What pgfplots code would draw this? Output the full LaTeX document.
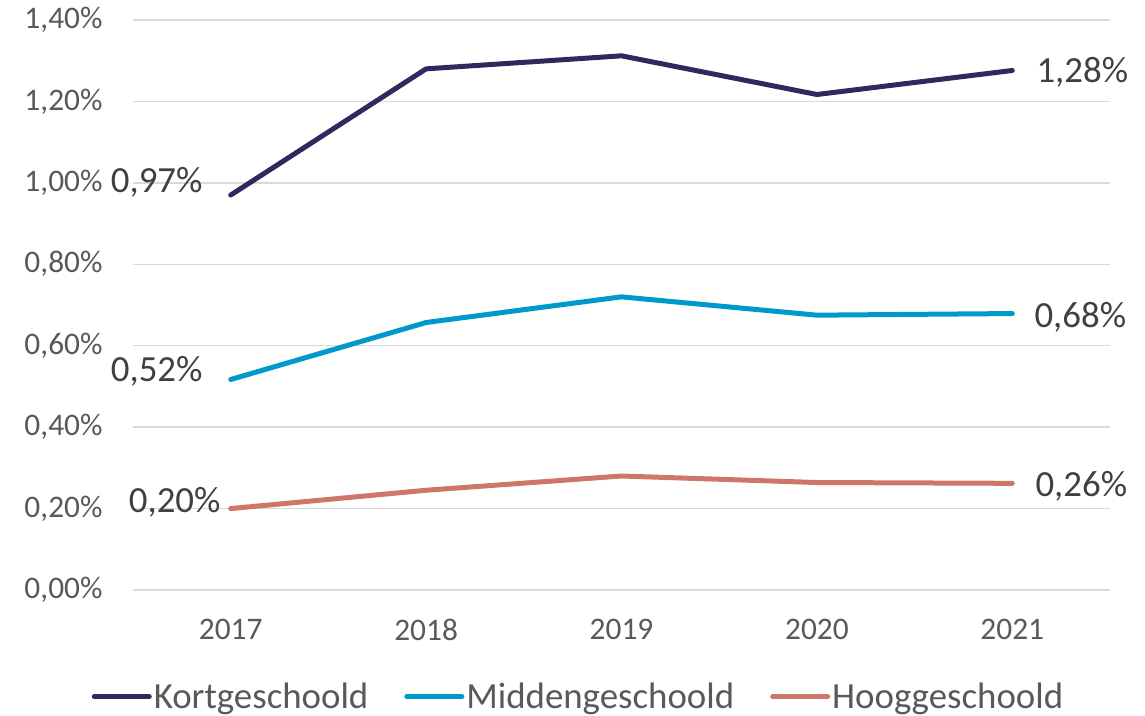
\documentclass[border=0pt]{standalone}
\usepackage{fontspec}
\setmainfont{Carlito}
\usepackage{pgfplots}
\pgfplotsset{compat=1.18}
\definecolor{kort}{HTML}{2C2A5E}
\definecolor{midden}{HTML}{0099CB}
\definecolor{hoog}{HTML}{CF766B}
\definecolor{tickc}{HTML}{595959}
\definecolor{labc}{HTML}{404040}
\definecolor{gridc}{HTML}{D9D9D9}
\begin{document}
\begin{tikzpicture}
\useasboundingbox (-133bp,-126bp) rectangle (1012bp,590bp);
\begin{axis}[
 at={(0,0)}, anchor=south west,
 scale only axis, width=977bp, height=570bp,
 xmin=-0.5, xmax=4.5, ymin=0, ymax=1.4,
 xtick={0,1,2,3,4}, xticklabels={2017,2018,2019,2020,2021},
 ytick={0,0.2,0.4,0.6,0.8,1.0,1.2,1.4},
 yticklabels={{0,00\%},{0,20\%},{0,40\%},{0,60\%},{0,80\%},{1,00\%},{1,20\%},{1,40\%}},
 ymajorgrids, major grid style={gridc, line width=1.5bp},
 axis line style={draw=none},
 major tick length=0pt,
 tick label style={font=\fontsize{31.5}{37}\selectfont, text=tickc},
 xticklabel style={yshift=-26bp},
 yticklabel style={xshift=-27bp},
 clip=false,
 legend style={at={(0.456,-0.187)}, anchor=center, draw=none, fill=none,
   font=\fontsize{37}{44}\selectfont, text=tickc, inner sep=0pt,
   nodes={inner sep=2bp},
   /tikz/every even column/.append style={column sep=34bp}},
 legend columns=3,
 legend image code/.code={\draw[#1, line cap=round] (0bp,0bp) -- (55bp,0bp);},
 every axis plot/.append style={line width=5bp, line join=round, line cap=round},
]
\addplot[kort] coordinates {(0,0.97) (1,1.28) (2,1.312) (3,1.217) (4,1.276)};
\addlegendentry{Kortgeschoold}
\addplot[midden] coordinates {(0,0.517) (1,0.657) (2,0.72) (3,0.675) (4,0.679)};
\addlegendentry{Middengeschoold}
\addplot[hoog] coordinates {(0,0.20) (1,0.245) (2,0.28) (3,0.264) (4,0.262)};
\addlegendentry{Hooggeschoold}
\begin{scope}[every node/.style={font=\fontsize{37}{44}\selectfont, text=labc, inner sep=0pt}]
\node[anchor=base east, xshift=-28bp, yshift=3bp] at (axis cs:0,0.97) {0,97\%};
\node[anchor=base east, xshift=-28bp, yshift=-2bp] at (axis cs:0,0.517) {0,52\%};
\node[anchor=base east, xshift=-10bp, yshift=-4bp] at (axis cs:0,0.20) {0,20\%};
\node[anchor=base west, xshift=24bp, yshift=-12bp] at (axis cs:4,1.276) {1,28\%};
\node[anchor=base west, xshift=22bp, yshift=-14bp] at (axis cs:4,0.679) {0,68\%};
\node[anchor=base west, xshift=23bp, yshift=-13bp] at (axis cs:4,0.262) {0,26\%};
\end{scope}
\end{axis}
\end{tikzpicture}
\end{document}
